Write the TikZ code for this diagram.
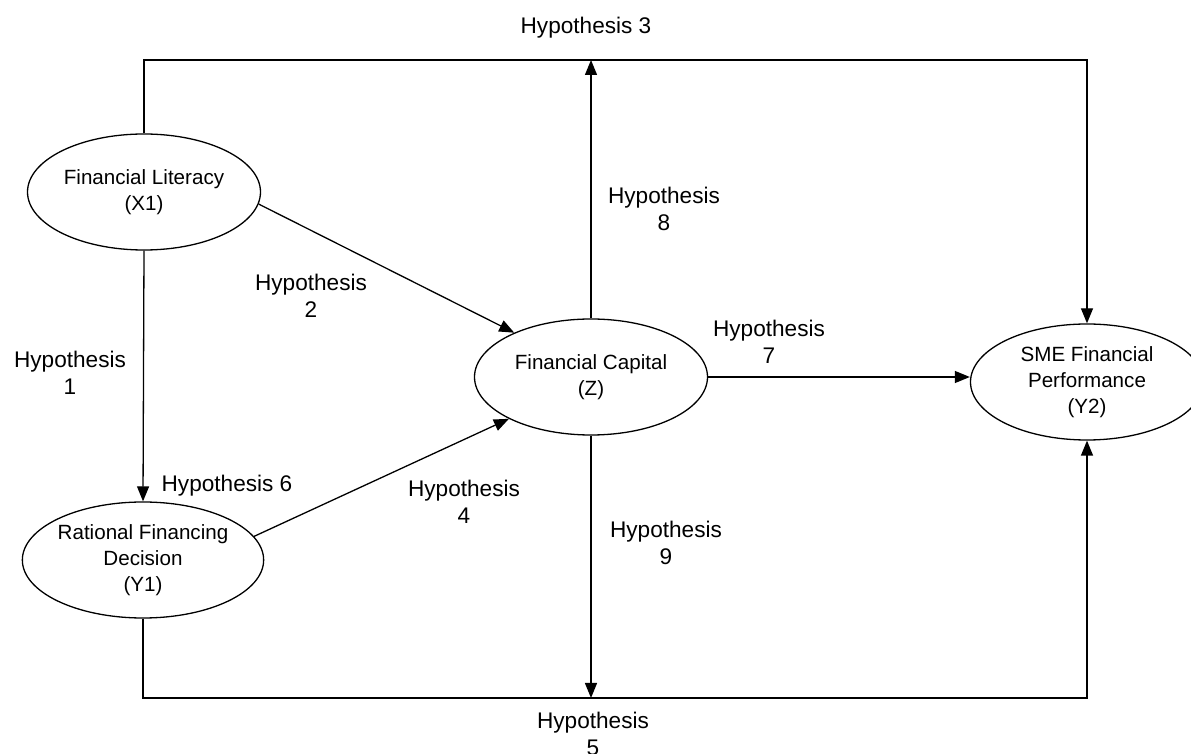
\documentclass[tikz,border=0pt]{standalone}
\usepackage{fontspec}
\setmainfont{Liberation Sans}
\usetikzlibrary{shapes.geometric,arrows.meta}
\begin{document}
\begin{tikzpicture}[x=0.5pt,y=-0.5pt,
  var/.style={ellipse,draw,line width=0.65pt,inner sep=0pt,minimum width=116.5pt,minimum height=58pt,align=center,font=\fontsize{10.3}{13}\selectfont},
  lbl/.style={align=center,inner sep=0pt,font=\fontsize{11.3}{13.5}\selectfont},
  arr/.style={draw,line width=0.65pt,-{Triangle[length=7.5pt,width=6pt]}},
  ln/.style={draw,line width=0.65pt}]
\path[use as bounding box] (0,0) rectangle (1191,754);
\clip (0,0) rectangle (1191,754);
\node[var] (X1) at (144,192) {Financial Literacy\\(X1)};
\node[var] (Y1) at (143,560) {Rational Financing\\Decision\\(Y1)};
\node[var] (Z) at (591,377) {Financial Capital\\(Z)};
\node[var] (SME) at (1087,382) {SME Financial\\Performance\\(Y2)};
\coordinate (top) at (0,60);
\coordinate (bot) at (0,698);
% connectors
\draw[arr] (X1.north) -- (X1.north |- top) -| (SME.north);
\draw[arr] (Z.north) -- (Z.north |- top);
\draw[arr] (Y1.south) -- (Y1.south |- bot) -| (SME.south);
\draw[arr] (Z.south) -- (Z.south |- bot);
\draw[arr] (X1.south) -- (Y1.north);
\draw[arr] (X1.-6) -- (Z.150);
\draw[arr] (Y1.12) -- (Z.207);
\draw[arr] (Z.east) -- (Z.east -| SME.west);
% labels
\node[lbl] (h3) at (586,28) {Hypothesis 3};
\node[lbl] (h8) at (664,209) {Hypothesis\\8};
\node[lbl] (h2) at (311,296) {Hypothesis\\2};
\node[lbl] (h1) at (70,373) {Hypothesis\\1};
\node[lbl] (h6) at (227,486) {Hypothesis 6};
\node[lbl] (h4) at (464,502) {Hypothesis\\4};
\node[lbl] (h9) at (666,543) {Hypothesis\\9};
\node[lbl] (h7) at (769,342) {Hypothesis\\7};
\node[lbl] (h5) at (593,734) {Hypothesis\\5};
\end{tikzpicture}
\end{document}
